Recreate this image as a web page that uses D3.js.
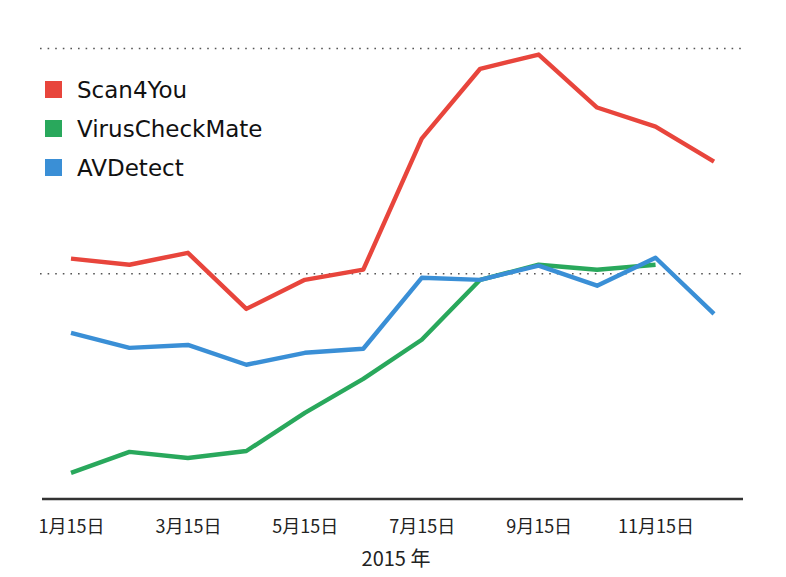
<!DOCTYPE html>
<html>
<head>
<meta charset="utf-8">
<script src="https://cdn.jsdelivr.net/npm/d3@7"></script>
<style>
	body { margin:0; background:#fff; }
	.tick-label { font-family:"Noto Sans CJK JP", sans-serif; font-size:18px; fill:#222; }
	.legend-label { font-family:"DejaVu Sans", Verdana, sans-serif; font-size:23px; fill:#111; }
</style>
</head>
<body>
<div id="chart"></div>
<script>
////////////////////////////////////////////////////
var months = [1,2,3,4,5,6,7,8,9,10,11,12];
var tickMonths = [1,3,5,7,9,11];
var seriesNames = ["Scan4You", "VirusCheckMate", "AVDetect"];
var seriesColors = ["#e8453c", "#29a85c", "#3a8fd6"];
var scan4you = [106.7, 104, 109.3, 84.4, 97.3, 101.8, 160, 191, 197.3, 173.8, 165.3, 149.8];
var virusCheckMate = [11.6, 20.9, 18.2, 21.3, 38.2, 53.3, 70.7, 97.3, 104, 101.8, 104];
var avDetect = [73.8, 67.1, 68.4, 59.6, 64.9, 66.7, 98.2, 97.3, 103.6, 94.7, 107.1, 82.2];
var gridValues = [100, 200];
var yearLabel = "2015 年";

////////////////////////////////////////////////////
function buildChart() {
	var totalW = 786, totalH = 577;
	var series = [scan4you, virusCheckMate, avDetect];

	var svg = d3.select("#chart").append("svg")
		.attr("width", totalW)
		.attr("height", totalH);

	var x = d3.scaleLinear().domain([1,12]).range([71,714]);
	var y = d3.scaleLinear().domain([0,200]).range([499,48.5]);

	/////////// GRID
	svg.selectAll("line.grid")
		.data(gridValues)
		.enter().append("line")
			.attr("class","grid")
			.attr("x1",40).attr("x2",746)
			.attr("y1",function(d){return y(d);})
			.attr("y2",function(d){return y(d);})
			.attr("stroke","#555")
			.attr("stroke-width",1.6)
			.attr("stroke-dasharray","1.6,6");

	/////////// X AXIS
	var xAxis = d3.axisBottom(x)
		.tickValues(tickMonths)
		.tickSize(0)
		.tickPadding(21)
		.tickFormat(function(d){return d+"月15日";});
	var gx = svg.append("g")
		.attr("transform","translate(0,"+y(0)+")")
		.call(xAxis);
	gx.select(".domain").remove();
	gx.selectAll("text").attr("class","tick-label").attr("font-family",null).attr("font-size",null);
	svg.append("line")
		.attr("x1",42).attr("x2",743)
		.attr("y1",y(0)).attr("y2",y(0))
		.attr("stroke","#333")
		.attr("stroke-width",2.5);
	svg.append("text")
		.attr("class","tick-label")
		.attr("x",396).attr("y",566)
		.attr("text-anchor","middle")
		.style("font-size","20px")
		.text(yearLabel);

	/////////// LINES
	var line = d3.line()
		.x(function(d,i){return x(months[i]);})
		.y(function(d){return y(d);});
	svg.selectAll("path.series")
		.data(series)
		.enter().append("path")
			.attr("class","series")
			.attr("d",line)
			.attr("fill","none")
			.attr("stroke",function(d,i){return seriesColors[i];})
			.attr("stroke-width",4.4)
			.attr("stroke-linejoin","round");

	/////////// LEGEND
	var leg = svg.selectAll("g.legend")
		.data(seriesNames)
		.enter().append("g")
			.attr("class","legend")
			.attr("transform",function(d,i){return "translate(45,"+(81+i*39)+")";});
	leg.append("rect")
		.attr("width",17).attr("height",17)
		.attr("fill",function(d,i){return seriesColors[i];});
	leg.append("text")
		.attr("class","legend-label")
		.attr("x",32).attr("y",17)
		.text(function(d){return d;});
}
buildChart();
////////////////////////////////////////////////////
</script>
</body>
</html>
